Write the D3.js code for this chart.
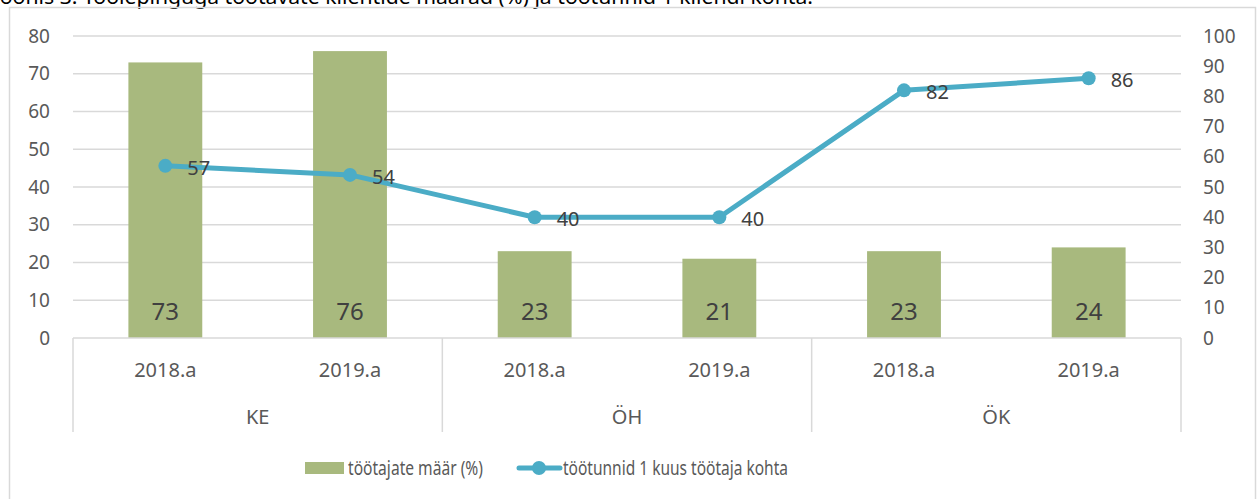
<!DOCTYPE html>
<html>
<head>
<meta charset="utf-8">
<script src="https://cdn.jsdelivr.net/npm/d3@7"></script>
<style>
  body { margin: 0; background: #fff; }
  svg { display: block; font-family: "Noto Sans", sans-serif; }
</style>
</head>
<body>
<svg id="chart" width="1257" height="499"></svg>
<script>
// data
const years = ["2018.a", "2019.a", "2018.a", "2019.a", "2018.a", "2019.a"];
const groups = ["KE", "ÖH", "ÖK"];
const workerRate = [73, 76, 23, 21, 23, 24];
const hoursPerWorker = [57, 54, 40, 40, 82, 86];
const leftTicks = [0, 10, 20, 30, 40, 50, 60, 70, 80];
const rightTicks = [0, 10, 20, 30, 40, 50, 60, 70, 80, 90, 100];
const legendLabels = ["töötajate määr (%)", "töötunnid 1 kuus töötaja kohta"];
const title = "Joonis 3. Töölepinguga töötavate klientide määrad (%) ja töötunnid 1 kliendi kohta.";

const barColor = "#a8b97e";
const lineColor = "#4bacc6";
const gridColor = "#d9d9d9";
const textColor = "#595959";

const svg = d3.select("#chart");
const plotLeft = 73, plotRight = 1181, plotTop = 36, plotBottom = 338;

// caption, cut off at the top like the source
svg.append("text")
    .attr("x", -6).attr("y", 4)
    .attr("textLength", 819)
    .attr("lengthAdjust", "spacingAndGlyphs")
    .style("font-size", "20px")
    .style("fill", "#000")
    .text(title);

// chart frame
svg.append("rect")
    .attr("x", 9.5).attr("y", 7.5)
    .attr("width", 1246).attr("height", 520)
    .attr("fill", "none")
    .attr("stroke", gridColor)
    .attr("stroke-width", 1.5);

const idx = d3.range(years.length);
const x = d3.scaleBand().domain(idx).range([plotLeft, plotRight]).paddingInner(0.6).paddingOuter(0.3);
const xc = i => x(i) + x.bandwidth() / 2;
const yL = d3.scaleLinear().domain([0, 80]).range([plotBottom, plotTop]);
const yR = d3.scaleLinear().domain([0, 100]).range([plotBottom, plotTop]);

// gridlines
svg.append("g")
    .selectAll("line")
    .data(leftTicks.filter(d => d > 0))
    .join("line")
    .attr("x1", plotLeft).attr("x2", plotRight)
    .attr("y1", d => yL(d)).attr("y2", d => yL(d))
    .attr("stroke", gridColor)
    .attr("stroke-width", 1.5);

// left axis
const gL = svg.append("g")
    .attr("transform", `translate(${plotLeft},0)`)
    .call(d3.axisLeft(yL).tickValues(leftTicks).tickSize(0).tickPadding(23));
gL.select(".domain").remove();
gL.selectAll("text").style("font-size", "19px").style("fill", textColor).style("font-family", "Noto Sans");

// right axis
const gR = svg.append("g")
    .attr("transform", `translate(${plotRight},0)`)
    .call(d3.axisRight(yR).tickValues(rightTicks).tickSize(0).tickPadding(22));
gR.select(".domain").remove();
gR.selectAll("text").style("font-size", "19px").style("fill", textColor).style("font-family", "Noto Sans");

// bars
svg.append("g")
    .selectAll("rect")
    .data(workerRate)
    .join("rect")
    .attr("x", (d, i) => x(i))
    .attr("y", d => yL(d))
    .attr("width", x.bandwidth())
    .attr("height", d => plotBottom - yL(d))
    .attr("fill", barColor);

// bar labels
svg.append("g")
    .selectAll("text")
    .data(workerRate)
    .join("text")
    .attr("x", (d, i) => xc(i))
    .attr("y", 320)
    .attr("text-anchor", "middle")
    .style("font-size", "24px")
    .style("fill", "#404040")
    .text(d => d);

// category axis
const step = (plotRight - plotLeft) / years.length;
svg.append("line")
    .attr("x1", plotLeft).attr("x2", plotRight)
    .attr("y1", plotBottom).attr("y2", plotBottom)
    .attr("stroke", gridColor).attr("stroke-width", 1.5);

svg.append("g")
    .selectAll("line")
    .data(d3.range(groups.length + 1))
    .join("line")
    .attr("x1", d => plotLeft + d * step * 2).attr("x2", d => plotLeft + d * step * 2)
    .attr("y1", plotBottom).attr("y2", 432)
    .attr("stroke", gridColor).attr("stroke-width", 1.5);

svg.append("g")
    .selectAll("text")
    .data(years)
    .join("text")
    .attr("x", (d, i) => xc(i))
    .attr("y", 377)
    .attr("text-anchor", "middle")
    .style("font-size", "20px")
    .style("fill", textColor)
    .text(d => d);

svg.append("g")
    .selectAll("text")
    .data(groups)
    .join("text")
    .attr("x", (d, i) => plotLeft + (i * 2 + 1) * step)
    .attr("y", 424)
    .attr("text-anchor", "middle")
    .style("font-size", "20px")
    .style("fill", textColor)
    .text(d => d);

// line series
const line = d3.line()
    .x((d, i) => xc(i))
    .y(d => yR(d));

svg.append("path")
    .datum(hoursPerWorker)
    .attr("fill", "none")
    .attr("stroke", lineColor)
    .attr("stroke-width", 5)
    .attr("stroke-linejoin", "round")
    .attr("d", line);

svg.append("g")
    .selectAll("circle")
    .data(hoursPerWorker)
    .join("circle")
    .attr("cx", (d, i) => xc(i))
    .attr("cy", d => yR(d))
    .attr("r", 7)
    .attr("fill", lineColor);

svg.append("g")
    .selectAll("text")
    .data(hoursPerWorker)
    .join("text")
    .attr("x", (d, i) => xc(i) + 22)
    .attr("y", d => yR(d) + 9)
    .style("font-size", "20px")
    .style("fill", "#404040")
    .text(d => d);

// legend
const leg = svg.append("g");
leg.append("rect")
    .attr("x", 305).attr("y", 462)
    .attr("width", 39).attr("height", 12)
    .attr("fill", barColor);
leg.append("text")
    .attr("x", 348).attr("y", 475)
    .attr("textLength", 135)
    .attr("lengthAdjust", "spacingAndGlyphs")
    .style("font-size", "20px")
    .style("fill", textColor)
    .text(legendLabels[0]);
leg.append("line")
    .attr("x1", 519).attr("x2", 560)
    .attr("y1", 468).attr("y2", 468)
    .attr("stroke", lineColor).attr("stroke-width", 5).attr("stroke-linecap", "round");
leg.append("circle")
    .attr("cx", 539).attr("cy", 468).attr("r", 7)
    .attr("fill", lineColor);
leg.append("text")
    .attr("x", 563).attr("y", 475)
    .attr("textLength", 225)
    .attr("lengthAdjust", "spacingAndGlyphs")
    .style("font-size", "20px")
    .style("fill", textColor)
    .text(legendLabels[1]);
</script>
</body>
</html>
